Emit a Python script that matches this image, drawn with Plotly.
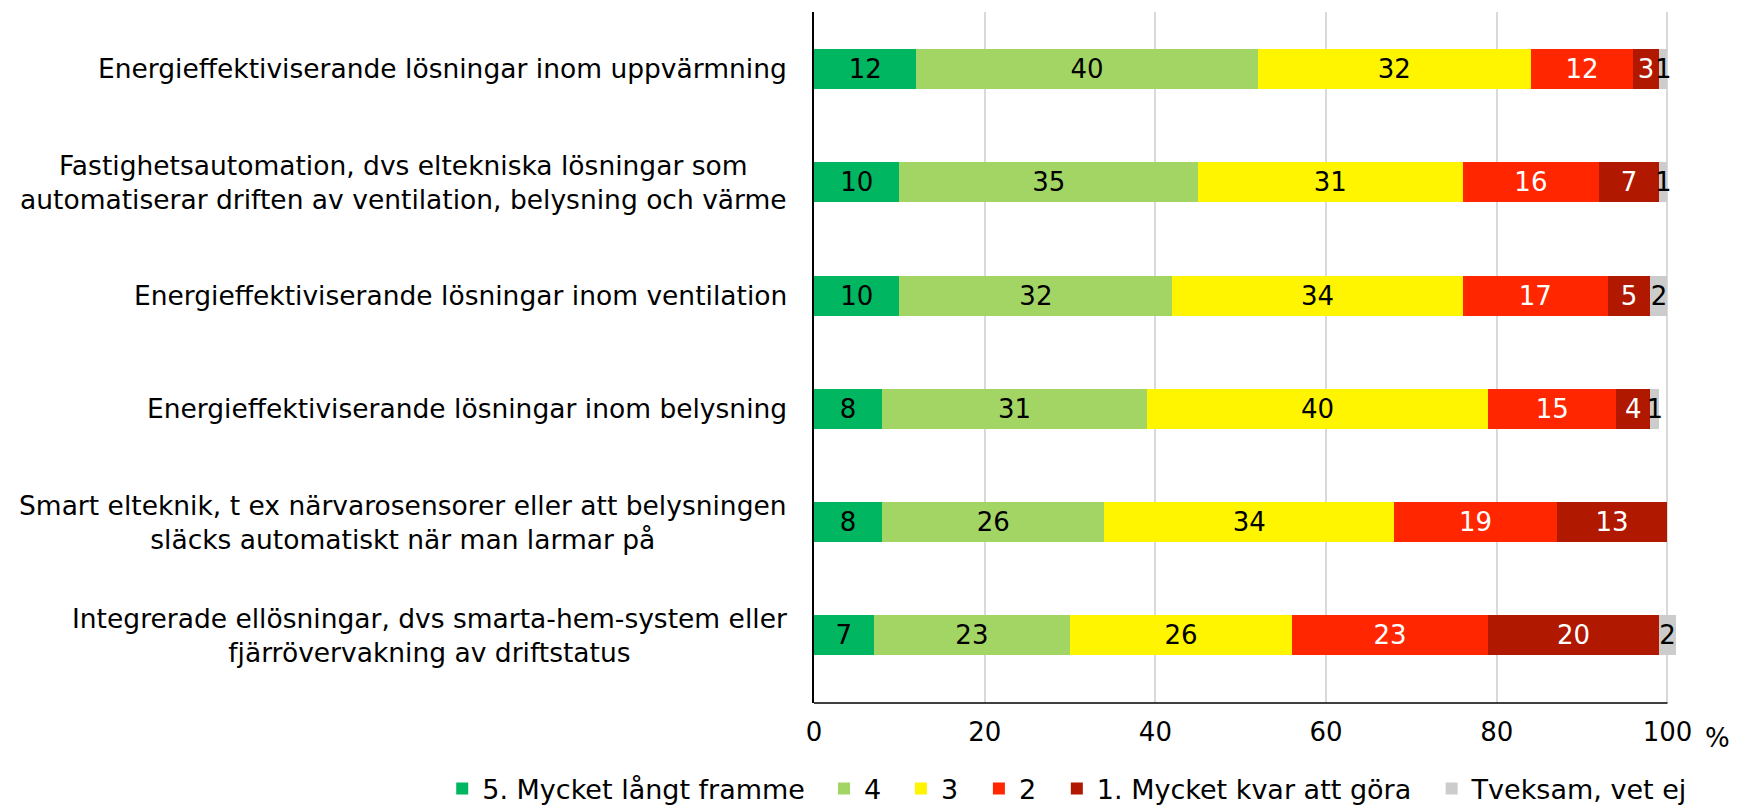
import plotly.graph_objects as go

categories = [
    "Energieffektiviserande lösningar inom uppvärmning",
    "Fastighetsautomation, dvs eltekniska lösningar som<br>automatiserar driften av ventilation, belysning och värme",
    "Energieffektiviserande lösningar inom ventilation",
    "Energieffektiviserande lösningar inom belysning",
    "Smart elteknik, t ex närvarosensorer eller att belysningen<br>släcks automatiskt när man larmar på",
    "Integrerade ellösningar, dvs smarta-hem-system eller<br>fjärrövervakning av driftstatus",
]

series_names = ["5. Mycket långt framme", "4", "3", "2", "1. Mycket kvar att göra", "Tveksam, vet ej"]

s5 = [12, 10, 10, 8, 8, 7]
s4 = [40, 35, 32, 31, 26, 23]
s3 = [32, 31, 34, 40, 34, 26]
s2 = [12, 16, 17, 15, 19, 23]
s1 = [3, 7, 5, 4, 13, 20]
s_vet_ej = [1, 1, 2, 1, 0, 2]

x_ticks = [0, 20, 40, 60, 80, 100]

colors = ["#00B660", "#A3D565", "#FFF500", "#FF2600", "#B01800", "#CCCCCC"]
text_colors = ["black", "black", "black", "white", "white", "black"]

# left edge of each legend entry, in paper units (one legend per entry)
legend_x = [-0.4313, 0.0116, 0.1009, 0.1913, 0.2817, 0.7165]

FONT = "DejaVu Sans"
FS = 26

fig = go.Figure()
for i, (name, vals, col, tcol) in enumerate(zip(series_names, [s5, s4, s3, s2, s1, s_vet_ej], colors, text_colors)):
    fig.add_trace(go.Bar(
        y=categories, x=vals, name=name, orientation="h",
        marker=dict(color=col, line=dict(width=0)),
        text=[str(v) if v else "" for v in vals],
        textposition="inside", insidetextanchor="middle", textangle=0,
        textfont=dict(color=tcol, size=FS, family=FONT),
        cliponaxis=False, hoverinfo="x+name",
        legend="legend" if i == 0 else f"legend{i + 1}",
    ))

# category labels, centred lines in a right-aligned block
for c in categories:
    fig.add_annotation(x=0, xref="paper", y=c, yref="y", text=c, showarrow=False,
                       xanchor="right", xshift=-25, align="center",
                       font=dict(size=26.5, family=FONT, color="black"))

fig.add_annotation(x=1.048, xref="paper", y=-0.05, yref="paper", text="%", showarrow=False,
                   xanchor="center", yanchor="middle", font=dict(size=FS, family=FONT, color="black"))

# x axis line only up to 100
fig.add_shape(type="line", xref="x", yref="paper", x0=0, x1=100, y0=0, y1=0,
              line=dict(color="black", width=1.5))

legends = {}
for i, lx in enumerate(legend_x):
    key = "legend" if i == 0 else f"legend{i + 1}"
    legends[key] = dict(orientation="h", x=lx, xanchor="left", y=-0.1245, yanchor="middle",
                        font=dict(size=27, family=FONT), bgcolor="rgba(0,0,0,0)")

fig.update_layout(
    barmode="stack", bargap=0.647,
    width=1737, height=806,
    margin=dict(l=814, r=60.5, t=12, b=103, autoexpand=False),
    plot_bgcolor="white", paper_bgcolor="white",
    font=dict(family=FONT, size=FS, color="black"),
    uniformtext=dict(minsize=FS, mode="show"),
    showlegend=True,
    xaxis=dict(range=[0, 101], tickvals=x_ticks, showgrid=True, gridcolor="#D9D9D9", gridwidth=1.5,
               showline=False, zeroline=False,
               ticks="", ticklabelstandoff=11, tickfont=dict(size=FS)),
    yaxis=dict(range=[5.596, -0.503], showticklabels=False, showline=True, linecolor="black",
               linewidth=1.5, showgrid=False, zeroline=False, ticks=""),
    **legends,
)

fig.write_html("out.html", config={"displayModeBar": False},
               post_script="document.body.style.margin='0';")
